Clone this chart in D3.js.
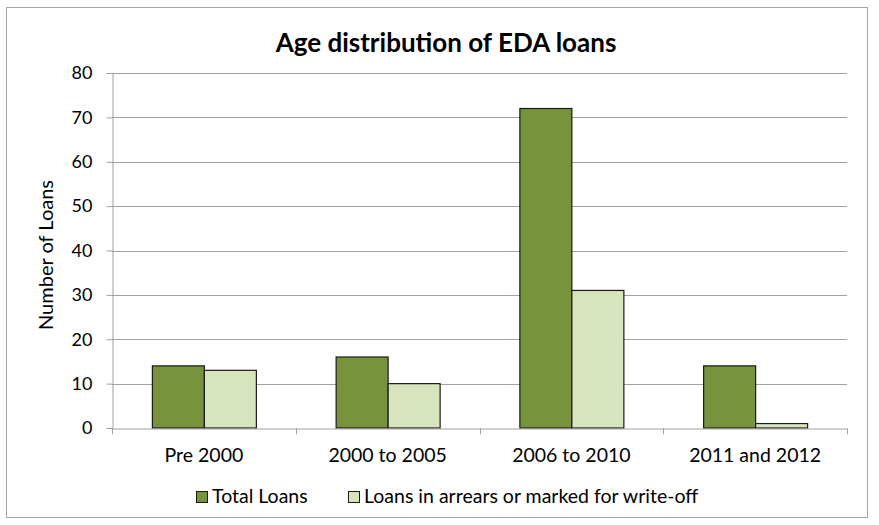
<!DOCTYPE html>
<html>
<head>
<meta charset="utf-8">
<script src="https://cdn.jsdelivr.net/npm/d3@7"></script>
<style>
  html, body { margin: 0; padding: 0; background: #fff; }
  svg { display: block; }
  text { font-family: Lato, "Open Sans", sans-serif; fill: #000; }
</style>
</head>
<body>
<svg id="chart" width="879" height="525"></svg>
<script>
const categories = ["Pre 2000", "2000 to 2005", "2006 to 2010", "2011 and 2012"];
const seriesNames = ["Total Loans", "Loans in arrears or marked for write-off"];
const totalLoans = [14, 16, 72, 14];
const arrearsLoans = [13, 10, 31, 1];
const yTicks = [0, 10, 20, 30, 40, 50, 60, 70, 80];
const colors = ["#77933C", "#D7E4BD"];

const svg = d3.select("#chart");
const plot = { left: 112, right: 847, top: 73, bottom: 428 };

// outer frame
svg.append("rect")
  .attr("x", 6.5).attr("y", 7.5).attr("width", 861).attr("height", 510)
  .attr("fill", "#fff").attr("stroke", "#A6A6A6").attr("stroke-width", 1);

const x = d3.scaleBand().domain(categories).range([plot.left, plot.right]).paddingInner(0).paddingOuter(0);
const x1 = d3.scaleBand().domain([0, 1]).range([0, x.bandwidth()]).paddingInner(0).paddingOuter(0.767);
const y = d3.scaleLinear().domain([0, 80]).range([plot.bottom, plot.top]);

// gridlines
svg.append("g").selectAll("line").data(yTicks.filter(d => d > 0)).join("line")
  .attr("x1", plot.left).attr("x2", plot.right)
  .attr("y1", d => Math.round(y(d)) + 0.5).attr("y2", d => Math.round(y(d)) + 0.5)
  .attr("stroke", "#A0A0A0").attr("stroke-width", 1);

// y axis
const yAxis = svg.append("g")
  .attr("transform", `translate(${plot.left + 0.5},0)`)
  .call(d3.axisLeft(y).tickValues(yTicks).tickSize(6).tickPadding(14).tickFormat(d3.format("d")));
yAxis.select(".domain").attr("stroke", "#A0A0A0");
yAxis.selectAll(".tick line").attr("stroke", "#A0A0A0");
yAxis.selectAll(".tick text").style("font-size", "18px").style("font-family", "Lato, sans-serif").attr("fill", "#000");

// bars
const groups = svg.append("g").selectAll("g").data(categories).join("g")
  .attr("transform", d => `translate(${x(d)},0)`);
groups.selectAll("rect")
  .data((d, i) => [totalLoans[i], arrearsLoans[i]])
  .join("rect")
  .attr("x", (d, j) => x1(j) + 0.5)
  .attr("width", x1.bandwidth())
  .attr("y", d => y(d))
  .attr("height", d => y(0) - y(d))
  .attr("fill", (d, j) => colors[j])
  .attr("stroke", "#1a1a1a").attr("stroke-width", 1.2);

// x axis
const xAxis = svg.append("g")
  .attr("transform", `translate(0,${Math.round(plot.bottom) + 0.5})`)
  .call(d3.axisBottom(x).tickSize(0).tickPadding(20));
xAxis.select(".domain").attr("stroke", "#A0A0A0");
xAxis.selectAll(".tick text").style("font-size", "19.5px").style("font-family", "Lato, sans-serif").attr("fill", "#000");
// category separators
const bounds = categories.map(c => x(c)).concat([x.range()[1]]);
xAxis.selectAll(".sep").data(bounds).join("line").attr("class", "sep")
  .attr("x1", d => Math.round(d) + 0.5).attr("x2", d => Math.round(d) + 0.5)
  .attr("y1", 0).attr("y2", 6).attr("stroke", "#A0A0A0");

// title
svg.append("text")
  .attr("x", 446).attr("y", 52)
  .attr("text-anchor", "middle")
  .style("font-size", "26px").style("font-weight", "bold")
  .text("Age distribution of EDA loans");

// y axis title
svg.append("text")
  .attr("transform", `translate(53,255) rotate(-90)`)
  .attr("text-anchor", "middle")
  .style("font-size", "20px")
  .text("Number of Loans");

// legend
const legendItems = [{ x: 196, i: 0 }, { x: 348, i: 1 }];
const lg = svg.append("g").selectAll("g").data(legendItems).join("g")
  .attr("transform", d => `translate(${d.x},503)`);
lg.append("rect").attr("x", 0.5).attr("y", -11.5).attr("width", 11).attr("height", 11)
  .attr("fill", d => colors[d.i]).attr("stroke", "#1a1a1a").attr("stroke-width", 1);
lg.append("text").attr("x", 16).attr("y", 0)
  .style("font-size", "19.5px")
  .text(d => seriesNames[d.i]);
</script>
</body>
</html>
